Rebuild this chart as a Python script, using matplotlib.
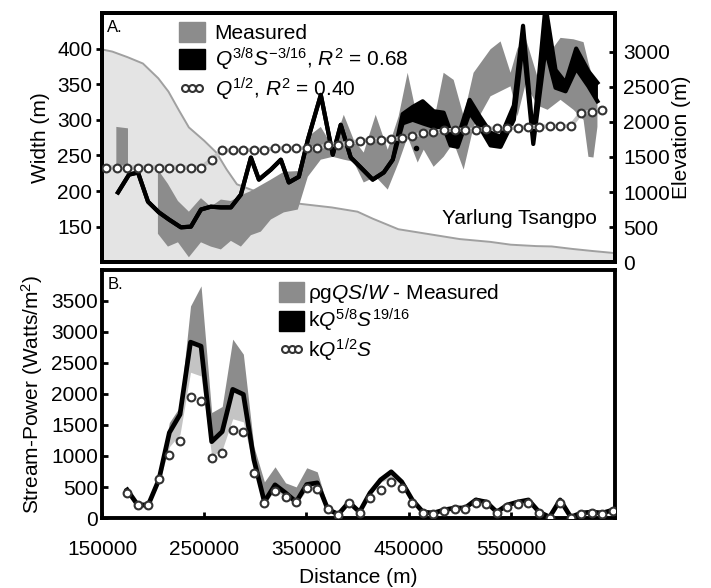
import numpy as np
import matplotlib
matplotlib.use("Agg")
import matplotlib.pyplot as plt
from matplotlib.patches import Patch
from matplotlib.lines import Line2D

plt.rcParams['font.family'] = ['Liberation Sans', 'DejaVu Sans']
plt.rcParams['mathtext.fontset'] = 'custom'
plt.rcParams['mathtext.rm'] = 'Liberation Sans'
plt.rcParams['mathtext.it'] = 'Liberation Sans:italic'

# ---------------- data ----------------
# station distances (m) used by the Q^1/2 model and panel B
station_x = [153900, 164200, 174600, 184900, 195200, 205600, 215900, 226300, 236600, 246900,
             257300, 267600, 277900, 288300, 298600, 308900, 319300, 329600, 340000, 350300,
             360600, 371000, 381300, 391600, 402000, 412300, 422600, 433000, 443300, 453600,
             464000, 474300, 484600, 495000, 505300, 515700, 526000, 536300, 546700, 557000,
             567300, 577700, 588000, 598300, 608700, 619000, 629400, 639700, 650000]

# Panel A: width from Q^1/2 model (stations 0..47)
width_q12 = [233, 233, 233, 233, 233, 233, 233, 233, 233, 233,
             244, 257, 257, 257, 258, 258, 260, 260, 260, 260,
             260, 265, 265, 268, 270, 272, 272, 273, 274, 277,
             281, 283, 285, 286, 286, 286, 287, 288, 288, 289,
             290, 290, 291, 291, 291, 310, 311, 314]

# Panel A: measured width range
meas_x = [164000, 175400, 190000, 204700, 214500, 224300, 235000, 246800, 256500, 266300,
          276100, 285900, 295700, 305400, 315200, 327900, 341600, 351400, 364100, 375800,
          386600, 396300, 406100, 417800, 429600, 440300, 449100, 458900, 464800, 474500,
          484300, 494100, 503900, 513600, 530200, 540000, 549800, 556600, 564500, 576200,
          586000, 598700, 611400, 621200, 626000, 630900, 634800]
meas_hi = [290, 288, np.nan, 230, 210, 186, 171, 190, 178, 188,
           186, 194, 200, 208, 216, 227, 228, 276, 290, 262,
           307, 272, 254, 307, 258, 305, 366, 300, 328, 296,
           366, 356, 305, 366, 399, 410, 366, 400, 415, 360,
           390, 415, 413, 409, 380, 356, 338]
meas_lo = [232, 232, np.nan, 140, 122, 128, 107, 128, 122, 118,
           130, 122, 138, 143, 160, 170, 174, 220, 244, 248,
           244, 241, 212, 220, 202, 240, 276, 240, 258, 234,
           248, 268, 230, 290, 333, 340, 347, 305, 350, 320,
           314, 328, 314, 300, 248, 247, 290]

# Panel A: Q^3/8 S^-3/16 model width range
model_x = [165600, 176400, 185200, 195000, 205700, 215500, 227200, 237000, 246800, 256500,
           266300, 276100, 285900, 295700, 303500, 315200, 325000, 332800, 342600, 351400,
           364100, 375800, 383600, 393400, 403200, 414900, 425700, 434500, 444200, 454000,
           463800, 474500, 484300, 491100, 498000, 509700, 519500, 530200, 540000, 553000,
           562000, 572000, 584000, 593800, 603600, 614000, 626000, 634800]
model_lo = [198, 223, 226, 185, 170, 160, 149, 150, 174, 178,
            177, 177, 195, 247, 216, 230, 244, 212, 220, 272,
            335, 251, 293, 247, 233, 216, 226, 244, 295, 300,
            295, 290, 290, 264, 262, 310, 290, 264, 262, 300,
            410, 266, 400, 345, 340, 372, 347, 326]
model_hi = [198, 223, 226, 185, 170, 160, 149, 150, 174, 178,
            177, 177, 195, 247, 216, 230, 244, 212, 220, 272,
            335, 251, 293, 247, 233, 216, 226, 244, 308, 318,
            326, 312, 310, 283, 274, 328, 305, 282, 276, 320,
            432, 275, 460, 370, 352, 400, 368, 352]
outlier_x = [456900]
outlier_w = [261]

# Panel A: elevation profile
elev_x = [150000, 160000, 175000, 190000, 205000, 215000, 225000, 235000, 250000, 262000,
          272000, 282000, 300000, 320000, 345000, 375000, 400000, 415000, 440000, 470000,
          500000, 530000, 550000, 575000, 590000, 610000, 630000, 652000]
elev = [3030, 3000, 2920, 2830, 2620, 2430, 2170, 1920, 1730, 1560,
        1320, 1110, 1010, 890, 830, 780, 720, 620, 470, 400,
        330, 290, 250, 230, 225, 190, 160, 130]

# Panel B: stream power (stations 2..48)
sp_model = [454, 210, 210, 616, 1377, 1669, 2835, 2770, 1231, 1393,
            2074, 1993, 940, 259, 535, 405, 259, 540, 567, 140,
            60, 255, 97, 405, 616, 745, 583, 292, 97, 81,
            130, 162, 162, 292, 259, 97, 211, 259, 292, 97,
            16, 292, 16, 81, 97, 81, 130]
sp_meas_hi = [480, 250, 260, 664, 1539, 1798, 3418, 3742, 1701, 1798,
              2884, 2641, 1150, 583, 826, 567, 502, 810, 745, 178,
              100, 292, 130, 454, 664, 780, 620, 320, 130, 110,
              160, 190, 190, 340, 290, 130, 240, 290, 320, 130,
              50, 320, 50, 110, 130, 110, 162]
sp_light_lo = [370, 180, 180, 560, 1150, 1350, 2350, 2290, 1000, 1100,
               1600, 1550, 780, 220, 450, 330, 220, 450, 480, 120,
               40, 230, 80, 380, 580, 640, 540, 260, 80, 60,
               110, 140, 140, 260, 230, 80, 190, 230, 260, 80,
               10, 260, 10, 60, 80, 60, 120]
sp_q12 = [400, 210, 210, 632, 1020, 1247, 1944, 1879, 972, 1053,
          1426, 1393, 729, 243, 437, 340, 259, 490, 460, 150,
          50, 240, 80, 330, 453, 583, 486, 243, 80, 70,
          110, 140, 140, 250, 220, 80, 180, 220, 250, 80,
          0, 250, 0, 70, 80, 70, 110]

xticks = [150000, 250000, 350000, 450000, 550000]

# ---------------- styling ----------------
GRAY = '#8c8c8c'
LIGHT = '#c4c4c4'
ELEV_FILL = '#e4e4e4'
ELEV_LINE = '#a0a0a0'
FS = 15

fig = plt.figure(figsize=(7.11, 5.88), dpi=100)
axA = fig.add_axes([0.1435, 0.554, 0.7215, 0.424])
axB = fig.add_axes([0.1435, 0.119, 0.7215, 0.422])
axE = axA.twinx()

# elevation (behind)
axE.fill_between(elev_x, 0, elev, color=ELEV_FILL, lw=0)
axE.plot(elev_x, elev, color=ELEV_LINE, lw=1.4)
axE.set_ylim(0, 3550)
axE.set_yticks([0, 500, 1000, 1500, 2000, 2500, 3000])
axE.set_ylabel('Elevation (m)', fontsize=FS, labelpad=1)
axA.set_zorder(axE.get_zorder() + 1)
axA.patch.set_visible(False)

# panel A series
xq = station_x[:len(width_q12)]
axA.fill_between(meas_x, meas_lo, meas_hi, color=GRAY, lw=0, zorder=2)
axA.fill_between(model_x, model_lo, model_hi, color='black', lw=0, zorder=3)
axA.plot(model_x, model_lo, color='black', lw=3, zorder=3)
axA.plot(model_x, model_hi, color='black', lw=3, zorder=3)
axA.plot(outlier_x, outlier_w, 'o', color='black', ms=3, zorder=3)
axA.plot(xq, width_q12, color=LIGHT, lw=3, zorder=4)
axA.plot(xq, width_q12, 'o', mfc='white', mec='#333333', mew=1.5, ms=5.6, zorder=5)
axA.set_xlim(150000, 652000)
axA.set_ylim(100, 450)
axA.set_yticks([150, 200, 250, 300, 350, 400])
axA.set_xticks([])
axA.set_ylabel('Width (m)', fontsize=FS, labelpad=5)
axA.text(0.01, 0.97, 'A.', transform=axA.transAxes, fontsize=12, va='top', ha='left')
axA.text(0.965, 0.175, 'Yarlung Tsangpo', transform=axA.transAxes, fontsize=FS,
         ha='right', va='center')

hA = [Patch(color=GRAY), Patch(color='black'),
      Line2D([], [], marker='o', ls='none', mfc='white', mec='#333333', mew=1.5, ms=5)]
lA = ['Measured', r'$Q^{3/8}S^{-3/16}$, $R^2$ = 0.68', r'$Q^{1/2}$, $R^2$ = 0.40']
axA.legend(hA, lA, loc='upper left', bbox_to_anchor=(0.13, 1.005), frameon=False,
           fontsize=FS, handlelength=1.25, handleheight=1.1, labelspacing=0.12,
           handletextpad=0.45, borderaxespad=0.1, numpoints=3)

# panel B series
xb = station_x[2:2 + len(sp_model)]
axB.fill_between(xb, sp_light_lo, sp_model, color=LIGHT, lw=0, zorder=1)
axB.fill_between(xb, sp_model, sp_meas_hi, color=GRAY, lw=0, zorder=2)
axB.plot(xb, sp_model, color='black', lw=3.4, zorder=3)
axB.plot(xb, sp_q12, 'o', mfc='white', mec='#333333', mew=1.5, ms=5.6, zorder=4)
axB.set_xlim(150000, 652000)
axB.set_ylim(0, 4000)
axB.set_yticks([0, 500, 1000, 1500, 2000, 2500, 3000, 3500])
axB.set_xticks(xticks)
axB.set_xticklabels([str(v) for v in xticks])
axB.set_ylabel(r'Stream-Power (Watts/m$^2$)', fontsize=FS, labelpad=4)
axB.set_xlabel('Distance (m)', fontsize=FS, labelpad=6)
axB.text(0.01, 0.97, 'B.', transform=axB.transAxes, fontsize=12, va='top', ha='left')

hB = [Patch(color=GRAY), Patch(color='black'),
      Line2D([], [], marker='o', ls='none', mfc='white', mec='#333333', mew=1.5, ms=5)]
lB = [r'ρg$QS/W$ - Measured', r'k$Q^{5/8}S^{19/16}$', r'k$Q^{1/2}S$']
axB.legend(hB, lB, loc='upper left', bbox_to_anchor=(0.325, 0.995), frameon=False,
           fontsize=FS, handlelength=1.2, handleheight=1.1, labelspacing=0.12,
           handletextpad=0.2, borderaxespad=0.1, numpoints=3)

for ax in (axA, axB, axE):
    for s in ax.spines.values():
        s.set_linewidth(2.8)
    ax.tick_params(labelsize=FS, width=2, length=4)
axA.tick_params(axis='y', direction='out', pad=3)
axE.tick_params(axis='y', direction='in', pad=6)
axB.tick_params(axis='x', direction='in', pad=16)
axB.tick_params(axis='y', direction='in', pad=3)

fig.savefig('out.png', dpi=100)
